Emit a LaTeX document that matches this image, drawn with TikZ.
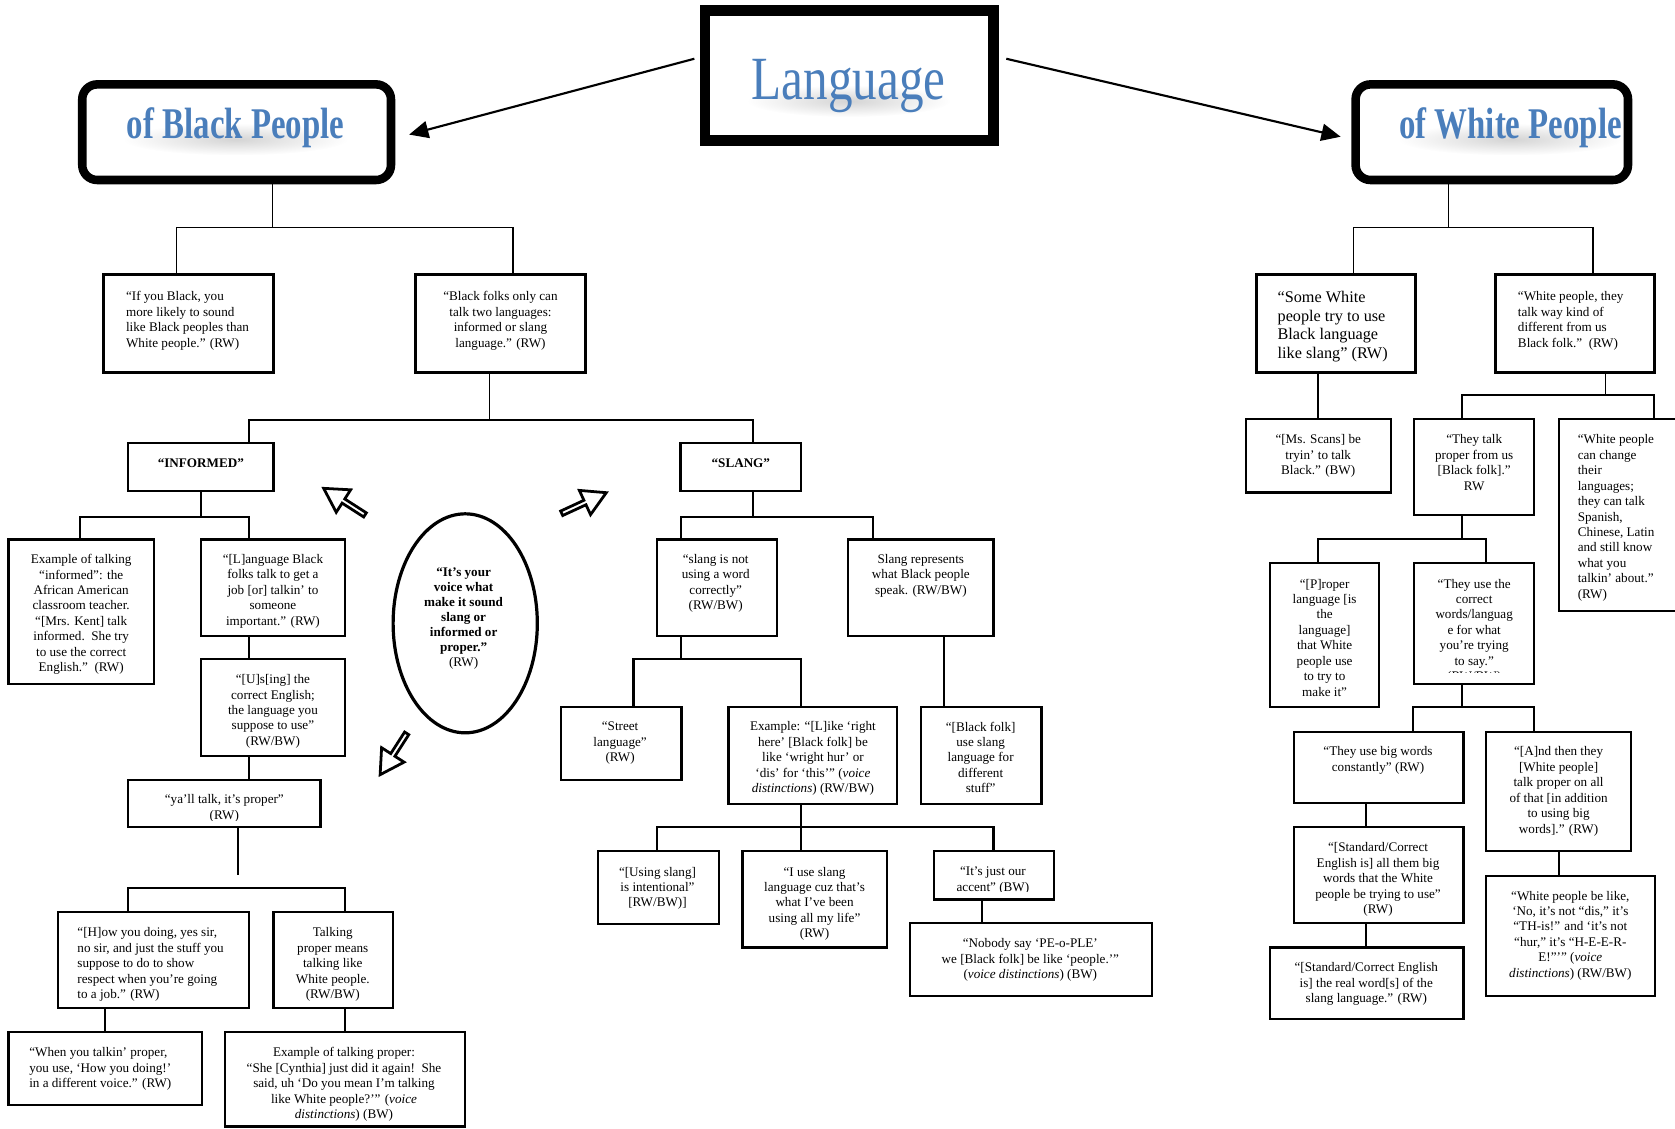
\documentclass[tikz,border=0pt]{standalone}
\usepackage{fontspec}
\setmainfont{Liberation Serif}
\newfontfamily\headfont[FakeStretch=0.8]{Liberation Serif}
\newfontfamily\subheadfont[FakeStretch=0.75]{Liberation Serif}
\usetikzlibrary{arrows.meta,shapes.geometric,calc,fadings}
\definecolor{headblue}{RGB}{74,126,187}
\tikzfading[name=haze,inner color=transparent!0,outer color=transparent!100]

% a box given by its left, top, right and bottom edges
\newcommand\mkbox[6][box]{%
  \node[#1,minimum width={#5-#3},minimum height={#6-#4}] (#2) at ({(#3+#5)/2},{(#4+#6)/2}) {};}

% blue heading with a soft grey haze underneath (name, x, baseline, half width, text)
\newcommand\headtext[5]{%
  \fill[black,opacity=0.17,path fading=haze] ({#2},{#3+1}) ellipse ({#4} and 15);
  \node[anchor=base,inner sep=0pt,text=headblue] (#1) at (#2,#3) {#5};}

\begin{document}
\begin{tikzpicture}[x=1pt,y=-1pt,
  box/.style={draw,line width=2pt,inner sep=0pt,outer sep=0pt},
  qbox/.style={box,line width=3pt},
  txt/.style={inner sep=0pt,outer sep=0pt,yshift=-3pt,font=\fontsize{12.3}{14.45}\selectfont},
  ctxt/.style={txt,anchor=north,align=center},
  ltxt/.style={txt,anchor=north west,align=left},
  conn/.style={line width=2pt},
  tconn/.style={line width=1.4pt},
  bigarr/.style={line width=2pt,-{Triangle[length=18pt,width=16pt]}},
  hollowarrow/.pic={\draw[line width=2.6pt,fill=white,line join=miter,miter limit=10]
      (0,-2.3) -- (24,-2.3) -- (24,-12.5) -- (46,0) -- (24,12.5) -- (24,2.3) -- (0,2.3) -- cycle;}
]
\fill[white] (0,0) rectangle (1568,1056);
\useasboundingbox (0,0) rectangle (1568,1056);

% ---------- headings ----------
\mkbox[box,line width=10pt]{lang}{660}{10}{930}{131.5}
\mkbox[box,line width=8pt,rounded corners=14pt]{black}{77}{79}{366}{168.5}
\mkbox[box,line width=8pt,rounded corners=14pt]{white}{1269}{79}{1524}{168.5}
\headtext{langtitle}{794.6}{93.6}{95}{\headfont\fontsize{57.5}{60}\selectfont Language}
\headtext{blacktitle}{220.5}{129.5}{105}{\subheadfont\bfseries\fontsize{41}{44}\selectfont of Black People}
\headtext{whitetitle}{1414}{129.5}{105}{\subheadfont\bfseries\fontsize{41}{44}\selectfont of White People}

\draw[bigarr] ($(lang.west)+(-10,-15.75)$) -- ($(black.east)+(17,2.25)$);
\draw[bigarr] ($(lang.east)+(12,-15.75)$) -- ($(white.west)+(-14,4.25)$);

% ---------- boxes ----------
\mkbox[qbox]{b1}{97}{257}{256}{349}
\mkbox[qbox]{b2}{389}{257}{548}{349}
\mkbox[qbox]{w1}{1176}{257}{1325}{349}
\mkbox[qbox]{w2}{1400}{257}{1549}{349}

\mkbox{inf}{120}{415}{256}{460}
\mkbox{i1}{8}{505}{144}{640}
\mkbox{i2}{188}{505}{323}{595}
\mkbox{i3}{188}{617}{323}{708}
\mkbox{i4}{120}{730}{300}{774}
\mkbox{p1}{54}{854}{233}{944}
\mkbox{p2}{256}{854}{368}{944}
\mkbox{p3}{8}{966}{189}{1034}
\mkbox{p4}{210.6}{966}{435.5}{1054.5}
\node[draw,ellipse,line width=3pt,minimum width=135pt,minimum height=205pt,inner sep=0pt] (voice) at (435.5,583.5) {};

\mkbox{sl}{637}{415}{750}{460}
\mkbox{s1}{615}{505}{727}{595}
\mkbox{s2}{794}{505}{930}{595}
\mkbox{s3}{525}{662}{638}{730}
\mkbox{s4}{682}{662}{840}{753}
\mkbox{s5}{862}{662}{975}{753}
\mkbox{s6}{560}{797}{673}{865}
\mkbox{s7}{695}{797}{830}{887}
\mkbox{s8}{874}{797}{987}{842}
\mkbox{s9}{852}{864}{1078}{932}

\mkbox{w3}{1166}{392}{1302}{461}
\mkbox{w4}{1324}{392}{1436}{482}
\mkbox{w5}{1459}{392}{1580}{572}
\mkbox{w6}{1189}{527}{1291}{662}
\mkbox{w7}{1324}{527}{1436}{640}
\mkbox{w8}{1211}{685}{1370}{752}
\mkbox{w9}{1391}{685}{1527}{797}
\mkbox{w10}{1211}{774}{1370}{864}
\mkbox{w11}{1189}{887}{1370}{954}
\mkbox{w12}{1391}{820}{1549}{932}

% ---------- connectors: Black side ----------
\coordinate (jb) at (255,213);
\draw[tconn] (255,0 |- black.south) -- (jb);
\draw[tconn] (165,0 |- b1.north) |- (jb) -| (480,0 |- b2.north);
\coordinate (jl) at (458,393);
\draw[tconn] (458,0 |- b2.south) -- (jl);
\draw[conn] (233,0 |- inf.north) |- (jl) -| (705,0 |- sl.north);

\coordinate (ji) at (188,484);
\draw[conn] (inf.south) -- (ji);
\draw[conn] (75,0 |- i1.north) |- (ji) -| (233,0 |- i2.north);
\draw[conn] (233,0 |- i2.south) -- (233,0 |- i3.north);
\draw[conn] (233,0 |- i3.south) -- (233,0 |- i4.north);
\coordinate (stub) at (223,819);
\draw[conn] (223,0 |- i4.south) -- (stub);
\coordinate (jp) at (323,831.6);
\draw[conn] (120,0 |- p1.north) |- (jp) -- (323,0 |- p2.north);
\draw[conn] (98.6,0 |- p1.south) -- (98.6,0 |- p3.north);
\draw[conn] (323,0 |- p2.south) -- (323,0 |- p4.north);

\coordinate (js) at (705,484);
\draw[conn] (705,0 |- sl.south) -- (js);
\draw[conn] (637.5,0 |- s1.north) |- (js) -| (817,0 |- s2.north);
\coordinate (js1) at (637.5,617);
\draw[conn] (637.5,0 |- s1.south) -- (js1);
\draw[conn] (593,0 |- s3.north) |- (js1) -| (750,0 |- s4.north);
\draw[conn] (884,0 |- s2.south) -- (884,0 |- s5.north);
\coordinate (js4) at (750,774);
\draw[conn] (750,0 |- s4.south) -- (js4);
\draw[conn] (615,0 |- s6.north) |- (js4) -| (930,0 |- s8.north);
\draw[conn] (js4) -- (750,0 |- s7.north);
\draw[conn] (919,0 |- s8.south) -- (919,0 |- s9.north);

% ---------- connectors: White side ----------
\coordinate (jw) at (1356,213);
\draw[tconn] (1356,0 |- white.south) -- (jw);
\draw[tconn] (1267,0 |- w1.north) |- (jw) -| (1491,0 |- w2.north);
\draw[tconn] (1234,0 |- w1.south) -- (1234,0 |- w3.north);
\coordinate (jw2) at (1503,370);
\draw[tconn] (1503,0 |- w2.south) -- (jw2);
\draw[conn] (1368.6,0 |- w4.north) |- (jw2) -| (1548.6,0 |- w5.north);
\coordinate (jw4) at (1368.6,504.6);
\draw[conn] (1368.6,0 |- w4.south) -- (jw4);
\draw[conn] (1234,0 |- w6.north) |- (jw4) -| (1391,0 |- w7.north);
\coordinate (jw7) at (1368.6,662);
\draw[conn] (1368.6,0 |- w7.south) -- (jw7);
\draw[conn] (1323,0 |- w8.north) |- (jw7) -| (1436,0 |- w9.north);
\draw[conn] (1279,0 |- w8.south) -- (1279,0 |- w10.north);
\draw[conn] (1279,0 |- w10.south) -- (1279,0 |- w11.north);
\draw[conn] (1459,0 |- w9.south) -- (1459,0 |- w12.north);

% ---------- hollow block arrows around the voice ellipse ----------
\pic[rotate=147.3] at (341.7,482) {hollowarrow};
\pic[rotate=24.8] at (525.8,480.5) {hollowarrow};
\pic[rotate=237.3] at (380.7,686.5) {hollowarrow};

% ---------- texts ----------
\node[ltxt] (b1t) at (118,270) {“If you Black, you\\more likely to sound\\like Black peoples than\\White people.” (RW)};
\node[ctxt] (b2t) at (468.5,270) {“Black folks only can\\talk two languages:\\informed or slang\\language.” (RW)};
\node[ltxt,font=\fontsize{15.2}{17.2}\selectfont] (w1t) at (1196,270) {“Some White\\people try to use\\Black language\\like slang” (RW)};
\node[ltxt] (w2t) at (1421,270) {“White people, they\\talk way kind of\\different from us\\Black folk.”\ \ (RW)};

\node[ctxt] (inft) at (188,426) {\textbf{“INFORMED”}};
\node[ctxt] (slt) at (693.5,426) {\textbf{“SLANG”}};

\node[ctxt] (i1t) at (76,516) {Example of talking\\“informed”: the\\African American\\classroom teacher.\\“[Mrs. Kent] talk\\informed.\ \ She try\\to use the correct\\English.”\ \ (RW)};
\node[ctxt] (i2t) at (255.5,516) {“[L]anguage Black\\folks talk to get a\\job [or] talkin’ to\\someone\\important.” (RW)};
\node[ctxt] (i3t) at (255.5,628.4) {“[U]s[ing] the\\correct English;\\the language you\\suppose to use”\\(RW/BW)};
\begin{scope}
\clip (120,730) rectangle (300,768.5);
\node[ctxt] (i4t) at (210,741) {“ya’ll talk, it’s proper”\\(RW)};
\end{scope}
\node[ctxt,font=\fontsize{12.3}{14}\selectfont] (voicet) at (434,528.6) {\textbf{“It’s your}\\\textbf{voice what}\\\textbf{make it sound}\\\textbf{slang or}\\\textbf{informed or}\\\textbf{proper.”}\\(RW)};

\node[ltxt] (p1t) at (72.5,865.6) {“[H]ow you doing, yes sir,\\no sir, and just the stuff you\\suppose to do to show\\respect when you’re going\\to a job.” (RW)};
\node[ctxt] (p2t) at (311.5,865.6) {Talking\\proper means\\talking like\\White people.\\(RW/BW)};
\node[ltxt] (p3t) at (27.4,977.6) {“When you talkin’ proper,\\you use, ‘How you doing!’\\in a different voice.” (RW)};
\node[ctxt] (p4t) at (322,977.6) {Example of talking proper:\\“She [Cynthia] just did it again!\ \ She\\said, uh ‘Do you mean I’m talking\\like White people?’” (\textit{voice}\\\textit{distinctions}) (BW)};

\node[ctxt] (s1t) at (670,516) {“slang is not\\using a word\\correctly”\\(RW/BW)};
\node[ctxt] (s2t) at (862,516) {Slang represents\\what Black people\\speak. (RW/BW)};
\node[ctxt] (s3t) at (580.5,672.7) {“Street\\language”\\(RW)};
\node[ctxt] (s4t) at (761,672.7) {Example: “[L]ike ‘right\\here’ [Black folk] be\\like ‘wright hur’ or\\‘dis’ for ‘this’” (\textit{voice}\\\textit{distinctions}) (RW/BW)};
\node[ctxt] (s5t) at (918,672.7) {“[Black folk]\\use slang\\language for\\different\\stuff”};
\node[ctxt] (s6t) at (615.5,808.5) {“[Using slang]\\is intentional”\\{[}RW/BW)]};
\node[ctxt] (s7t) at (762.5,808.5) {“I use slang\\language cuz that’s\\what I’ve been\\using all my life”\\(RW)};
\begin{scope}
\clip (874,797) rectangle (987,834.5);
\node[ctxt] (s8t) at (929.5,808.5) {“It’s just our\\accent” (BW)};
\end{scope}
\node[ctxt] (s9t) at (964.5,875.6) {“Nobody say ‘PE-o-PLE’\\we [Black folk] be like ‘people.’”\\(\textit{voice distinctions}) (BW)};

\node[ctxt] (w3t) at (1234,404) {“[Ms. Scans] be\\tryin’ to talk\\Black.” (BW)};
\node[ctxt] (w4t) at (1380,404) {“They talk\\proper from us\\{[}Black folk].”\\RW};
\node[ltxt] (w5t) at (1477,404) {“White people\\can change\\their\\languages;\\they can talk\\Spanish,\\Chinese, Latin\\and still know\\what you\\talkin’ about.”\\(RW)};
\node[ctxt] (w6t) at (1240,539) {“[P]roper\\language [is\\the\\language]\\that White\\people use\\to try to\\make it”};
\begin{scope}
\clip (1324,527) rectangle (1436,629.7);
\node[ctxt] (w7t) at (1380,539) {“They use the\\correct\\words/languag\\e for what\\you’re trying\\to say.”\\(RW/BW)};
\end{scope}
\node[ctxt] (w8t) at (1290,696) {“They use big words\\constantly” (RW)};
\node[ctxt] (w9t) at (1459,696) {“[A]nd then they\\{[}White people]\\talk proper on all\\of that [in addition\\to using big\\words].” (RW)};
\node[ctxt] (w10t) at (1290,786) {“[Standard/Correct\\English is] all them big\\words that the White\\people be trying to use”\\(RW)};
\node[ctxt] (w11t) at (1279,898) {“[Standard/Correct English\\is] the real word[s] of the\\slang language.” (RW)};
\node[ctxt] (w12t) at (1470,831) {“White people be like,\\‘No, it’s not “dis,” it’s\\“TH-is!” and ‘it’s not\\“hur,” it’s “H-E-E-R-\\E!”’” (\textit{voice}\\\textit{distinctions}) (RW/BW)};
\end{tikzpicture}
\end{document}
